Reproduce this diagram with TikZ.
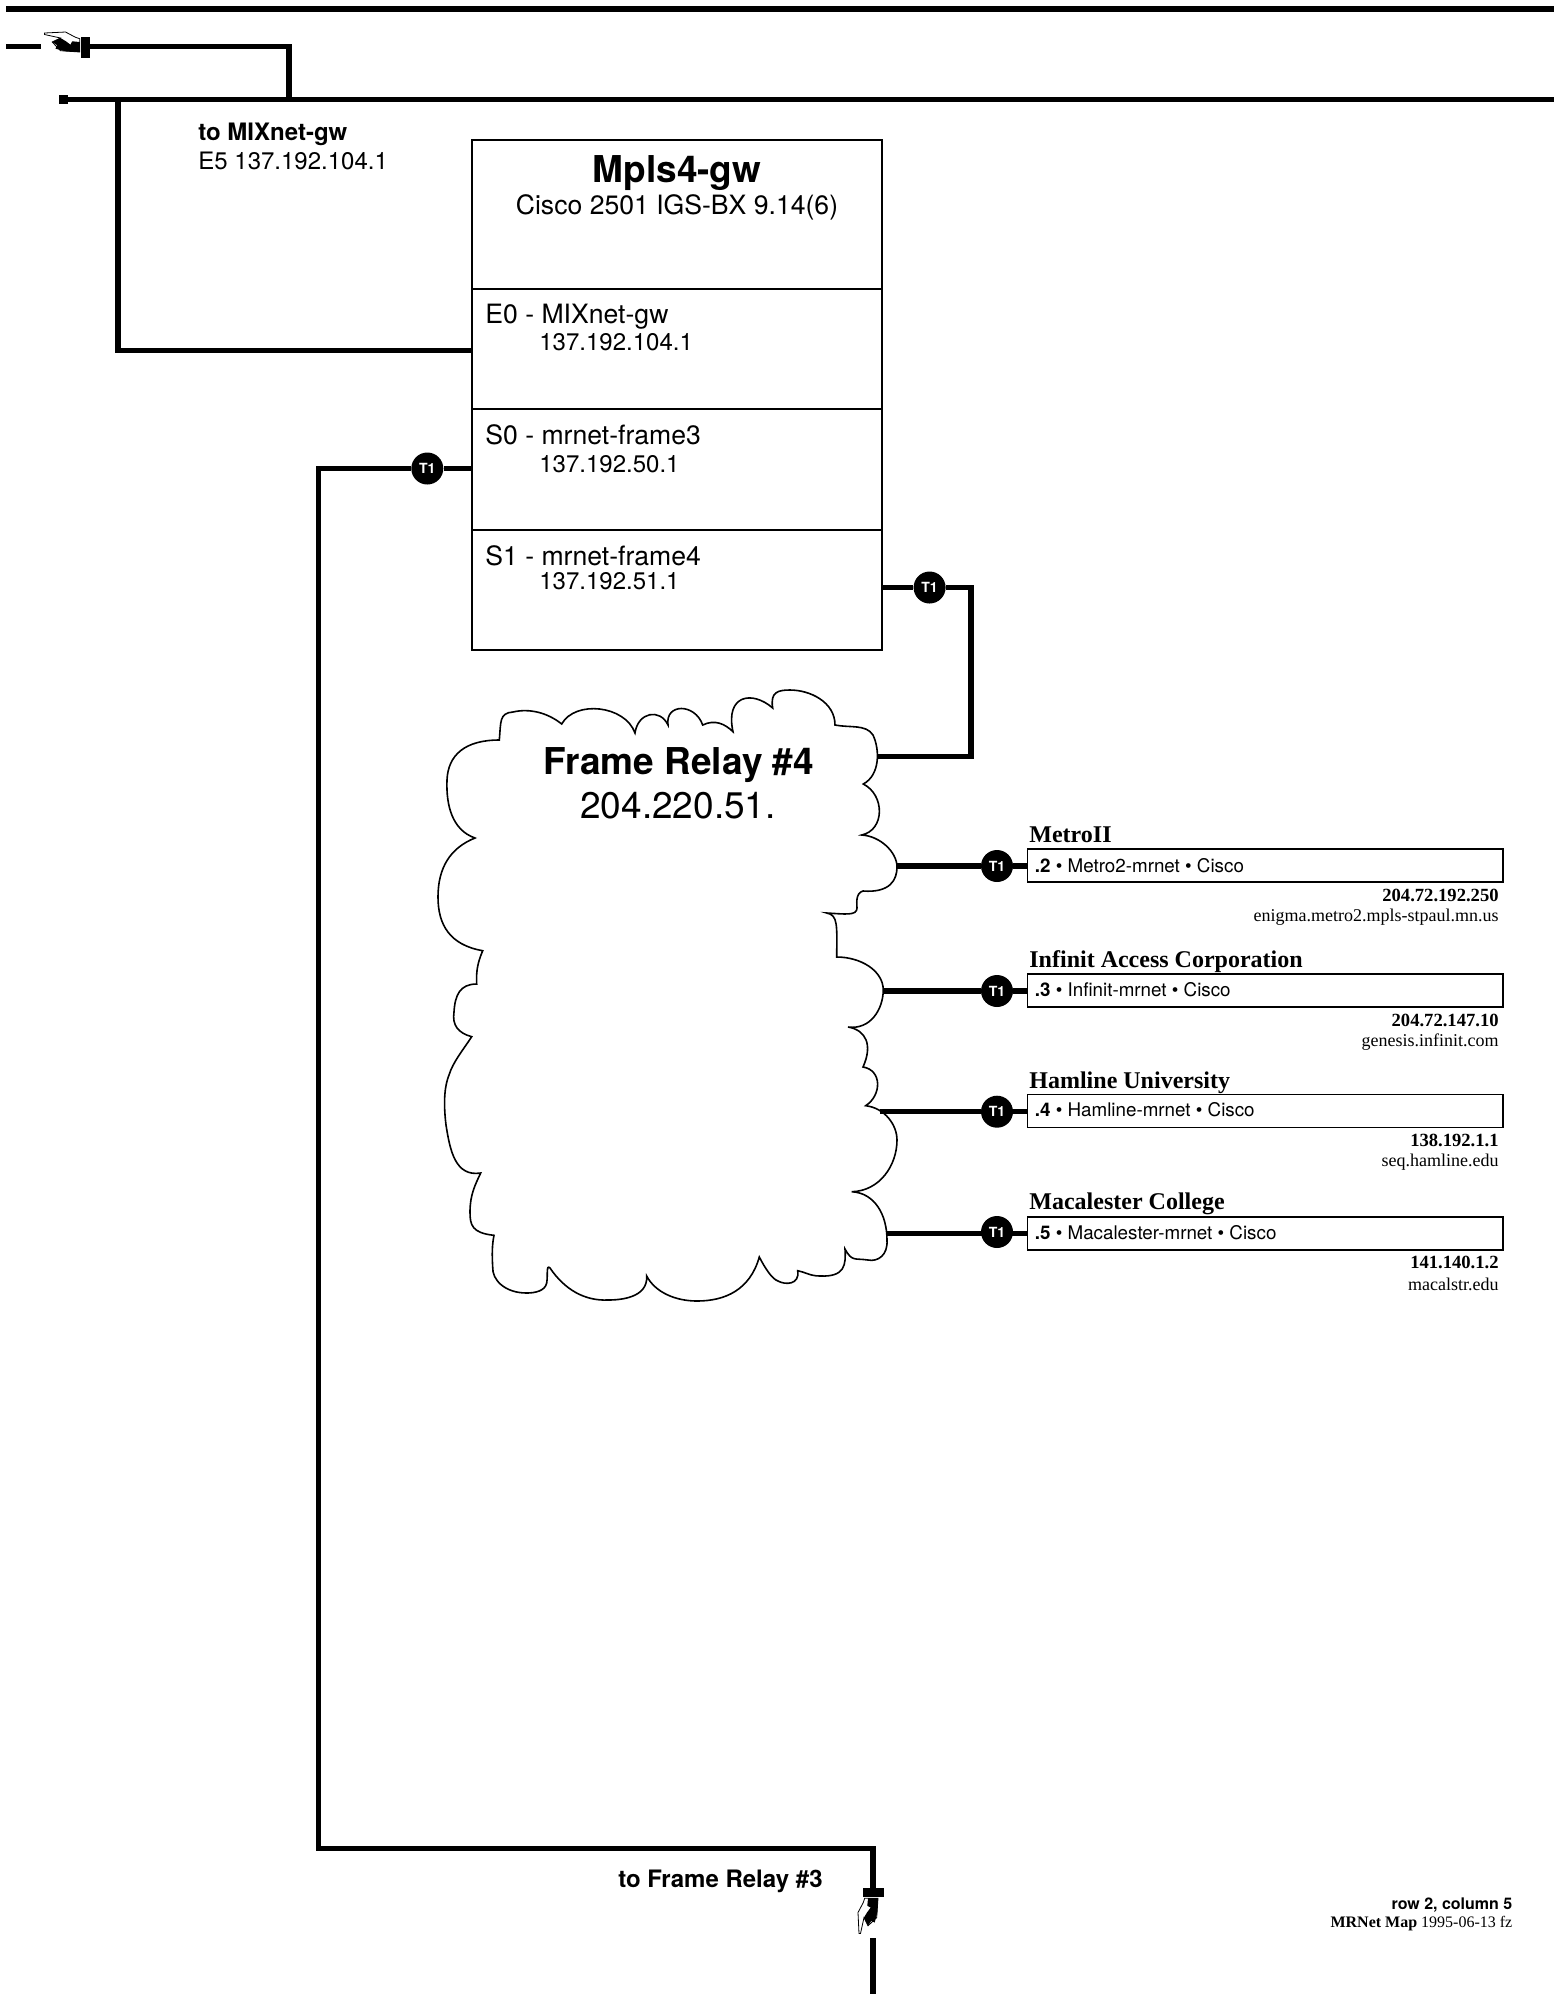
\documentclass[tikz,border=0pt]{standalone}
\usepackage{fontspec}
\setmainfont{Liberation Serif}
\newfontfamily\helv{TeX Gyre Heros}
\usetikzlibrary{backgrounds}
\usetikzlibrary{positioning}

\begin{document}
\begin{tikzpicture}[
            x = 0.5pt, y = -0.5pt, % one unit is one pixel of the map
            trunk/.style = {line width = 2.7pt, line cap = butt, line join = miter},
            port/.style = {draw, line width = 0.6pt, minimum width = 205pt, inner sep = 0pt},
            sitebox/.style = {draw, line width = 0.6pt, minimum width = 237.75pt, minimum height = 16.5pt, inner sep = 0pt},
            t1/.style = {circle, fill = black, text = white, inner sep = 0pt, minimum size = 16pt,
                font = \helv\bfseries\fontsize{7}{8}\selectfont},
            lab/.style = {inner sep = 0pt, anchor = base west},
            labr/.style = {inner sep = 0pt, anchor = base east},
            labc/.style = {inner sep = 0pt, anchor = base},
            hbig/.style = {font = \helv\bfseries\fontsize{18.5}{20}\selectfont},
            hmid/.style = {font = \helv\fontsize{13.3}{15}\selectfont},
            haddr/.style = {font = \helv\fontsize{12}{14}\selectfont},
            hbold/.style = {font = \helv\bfseries\fontsize{12}{14}\selectfont},
            hsite/.style = {font = \helv\fontsize{9.4}{11}\selectfont},
            sitename/.style = {font = \bfseries\fontsize{12}{14}\selectfont},
            siteip/.style = {font = \bfseries\fontsize{9.3}{11}\selectfont},
            sitehost/.style = {font = \fontsize{9}{11}\selectfont},
            handmark/.pic = {
                \fill (-4.5,-10.5) rectangle (4.5,10.5);
                \draw[fill = white, line width = 0.4pt] (-41,-14) -- (-20,-15) -- (-10,-9.7) -- (-5.7,-8.3) -- (-5.7,5)
                    -- (-25,3.7) -- (-33.3,-5) -- (-25,-9) -- (-41,-12.5) -- cycle;
                \fill (-25,-9) -- (-33.3,-5) -- (-28.3,-1.7) -- (-30,1.7) -- (-20,4.3) -- (-5.7,5) -- (-5.7,-5)
                    -- (-13.3,-5.7) -- (-15,-2.3) -- (-20,-6) -- cycle;
            }
        ]

        \useasboundingbox (0,0) rectangle (1554,1994);

        % router
        \node[port, minimum height = 74.5pt] (title) at (677,214.5) {};
        \node[port, minimum height = 60pt] (e0) at (677,349) {};
        \node[port, minimum height = 60.5pt] (s0) at (677,469.5) {};
        \node[port, minimum height = 60pt] (s1) at (677,590) {};

        \node[labc, hbig] (routername) at (677,182) {Mpls4-gw};
        \node[labc, hmid] (routertype) at (677,214) {Cisco 2501 IGS-BX 9.14(6)};
        \node[lab, hmid] (e0name) at (485,323) {E0 - MIXnet-gw};
        \node[lab, haddr] (e0addr) at (539,350) {137.192.104.1};
        \node[lab, hmid] (s0name) at (485,444) {S0 - mrnet-frame3};
        \node[lab, haddr] (s0addr) at (539,472) {137.192.50.1};
        \node[lab, hmid] (s1name) at (485,565) {S1 - mrnet-frame4};
        \node[lab, haddr] (s1addr) at (539,589) {137.192.51.1};

        % cloud
        \draw[line width = 0.8pt] (499.3,740) .. controls (501,722) and (499,713) .. (513,712)
            .. controls (530,708) and (548,713) .. (561.7,724)
            .. controls (575,700) and (625,705) .. (635,733)
            .. controls (638,712) and (660,708) .. (668,725)
            .. controls (665,703) and (695,703) .. (702.7,725)
            .. controls (715,719) and (725,724) .. (733,731.7)
            .. controls (725,695) and (752,690) .. (772.7,708)
            .. controls (770,692) and (778,690) .. (790,690)
            .. controls (810,690) and (835,702) .. (835,725)
            .. controls (850,728) and (866,724) .. (873,735)
            .. controls (880,750) and (880,775) .. (863.3,784)
            .. controls (885,795) and (885,830) .. (861.7,835)
            .. controls (880,836) and (897,852) .. (897,867)
            .. controls (897,880) and (890,893) .. (863,891)
            .. controls (855,893) and (857,905) .. (857,908)
            .. controls (857,916) and (845,914) .. (826.7,913)
            .. controls (838,915) and (837,925) .. (836.7,957)
            .. controls (860,957) and (883,970) .. (883.3,990)
            .. controls (883,1010) and (870,1030) .. (848,1027)
            .. controls (866,1030) and (873,1045) .. (863,1067)
            .. controls (882,1070) and (882,1095) .. (865.7,1105.7)
            .. controls (885,1108) and (897,1125) .. (897,1140)
            .. controls (897,1165) and (880,1191) .. (851.7,1191.7)
            .. controls (875,1193) and (887,1215) .. (887,1240)
            .. controls (888,1255) and (878,1262) .. (868,1260)
            .. controls (855,1258) and (852,1262) .. (845,1249)
            .. controls (846,1265) and (845,1277) .. (820,1276)
            .. controls (810,1276) and (805,1272) .. (797.7,1270.7)
            .. controls (800,1285) and (785,1285) .. (778,1281)
            .. controls (772,1279) and (765,1268) .. (759.3,1257)
            .. controls (750,1290) and (725,1301) .. (697,1301)
            .. controls (675,1301) and (655,1292) .. (646.7,1276)
            .. controls (648,1298) and (620,1300) .. (608,1300)
            .. controls (585,1301) and (565,1290) .. (550,1268)
            .. controls (546,1264) and (548,1275) .. (546.7,1283)
            .. controls (545,1291) and (535,1293) .. (526.7,1293)
            .. controls (505,1293) and (492,1280) .. (492.7,1267)
            .. controls (492,1255) and (492,1245) .. (494,1235.3)
            .. controls (472,1233) and (470,1225) .. (470,1212)
            .. controls (470,1195) and (475,1185) .. (480.7,1173)
            .. controls (455,1177) and (450,1150) .. (446,1125)
            .. controls (443,1100) and (445,1085) .. (449,1075)
            .. controls (453,1062) and (463,1050) .. (471.7,1036.7)
            .. controls (458,1033) and (452,1025) .. (454,1012)
            .. controls (455,995) and (460,984) .. (476.7,984)
            .. controls (476,970) and (478,962) .. (482.7,950.7)
            .. controls (450,945) and (438,925) .. (438,897)
            .. controls (438,868) and (450,848) .. (475,838)
            .. controls (452,830) and (446,805) .. (447,780)
            .. controls (448,755) and (465,740) .. (499.3,740) -- cycle;

        \node[labc, hbig] (cloudname) at (679,774) {Frame Relay \#4};
        \node[labc, font = \helv\fontsize{18.5}{20}\selectfont] (cloudaddr) at (678,818) {204.220.51.};

        \coordinate (cloudtop) at (876.7,756.7);
        \coordinate (clouda) at (896.7,866);
        \coordinate (cloudb) at (883.3,991);
        \coordinate (cloudc) at (880,1111.7);
        \coordinate (cloudd) at (886.7,1233.5);

        % sites
        \node[sitebox] (metro) at (1265.25,865.5) {};
        \node[lab, sitename] (metroname) at (1029,842) {MetroII};
        \node[lab, hsite] (metrotext) at (1034.5,872) {\textbf{.2} • Metro2-mrnet • Cisco};
        \node[labr, siteip] (metroip) at (1499,901.7) {204.72.192.250};
        \node[labr, sitehost] (metrohost) at (1499,921.7) {enigma.metro2.mpls-stpaul.mn.us};

        \node[sitebox] (infinit) at (1265.25,990.5) {};
        \node[lab, sitename] (infinitname) at (1029,967) {Infinit Access Corporation};
        \node[lab, hsite] (infinittext) at (1034.5,996.7) {\textbf{.3} • Infinit-mrnet • Cisco};
        \node[labr, siteip] (infinitip) at (1499,1026.7) {204.72.147.10};
        \node[labr, sitehost] (infinithost) at (1499,1046.7) {genesis.infinit.com};

        \node[sitebox] (hamline) at (1265.25,1110.7) {};
        \node[lab, sitename] (hamlinename) at (1029,1088) {Hamline University};
        \node[lab, hsite] (hamlinetext) at (1034.5,1116.7) {\textbf{.4} • Hamline-mrnet • Cisco};
        \node[labr, siteip] (hamlineip) at (1499,1146) {138.192.1.1};
        \node[labr, sitehost] (hamlinehost) at (1499,1166.7) {seq.hamline.edu};

        \node[sitebox] (macalester) at (1265.25,1233.5) {};
        \node[lab, sitename] (macalestername) at (1029,1209.5) {Macalester College};
        \node[lab, hsite] (macalestertext) at (1034.5,1239) {\textbf{.5} • Macalester-mrnet • Cisco};
        \node[labr, siteip] (macalesterip) at (1499,1268) {141.140.1.2};
        \node[labr, sitehost] (macalesterhost) at (1499,1290) {macalstr.edu};

        % T1 marks
        \node[t1] (ts0) at (427.3,468.5) {T1};
        \node[t1] (ts1) at (929.6,587.5) {T1};
        \node[t1] (tmetro) at (997,866) {T1};
        \node[t1] (tinfinit) at (997,991) {T1};
        \node[t1] (thamline) at (997,1111.7) {T1};
        \node[t1] (tmacalester) at (997,1232) {T1};

        % links off the page
        \coordinate (topa) at (6,9);
        \coordinate (topb) at (1554,9);
        \coordinate (ina) at (6,46.5);
        \coordinate (inb) at (41,46.5);
        \coordinate (busfork) at (289,99.5);
        \coordinate (bustap) at (118,99.5);
        \coordinate (busright) at (1554,99.5);
        \coordinate (e0port) at (473,350.5);
        \coordinate (s0corner) at (318.7,1848.5);
        \coordinate (outa) at (873,1938);
        \coordinate (outb) at (873,1994);
        \coordinate (s1bend) at (971,587.5);

        \node[fill = black, inner sep = 0pt, minimum size = 4.5pt] (busend) at (63.5,99.5) {};
        \path (85.5,47) pic {handmark};
        \coordinate (handin) at (90,46.5);
        \path (873,1892.5) pic[rotate = 90] {handmark};
        \coordinate (handout) at (873,1888);

        \node[lab, hbold] (toname) at (198,140.7) {to MIXnet-gw};
        \node[lab, haddr] (toaddr) at (198,169) {E5 137.192.104.1};
        \node[labr, hbold] (frame3) at (823,1887) {to Frame Relay \#3};
        \node[labr, font = \helv\bfseries\fontsize{8}{9}\selectfont] (mapcell) at (1512.7,1909) {row 2, column 5};
        \node[labr, font = \fontsize{8}{9}\selectfont] (mapname) at (1512.7,1927) {\textbf{MRNet Map} 1995-06-13 fz};

        \begin{scope}[on background layer]
            \draw[trunk, line width = 3pt] (topa) -- (topb);
            \draw[trunk] (ina) -- (inb);
            \draw[trunk] (handin) -| (busfork);
            \draw[trunk] (busend) -- (busright);
            \draw[trunk] (bustap) |- (e0port);
            \draw[trunk] (s0.west |- ts0) -- (ts0) -- (ts0 -| s0corner) -- (s0corner) -| (handout);
            \draw[trunk] (outa) -- (outb);
            \draw[trunk] (s1.east |- ts1) -- (ts1) -- (s1bend) |- (cloudtop);
            \draw[trunk] (clouda) -- (tmetro) -- (metro.west |- tmetro);
            \draw[trunk] (cloudb) -- (tinfinit) -- (infinit.west |- tinfinit);
            \draw[trunk] (cloudc) -- (thamline) -- (hamline.west |- thamline);
            \draw[trunk] (cloudd) -- (tmacalester.center |- cloudd) -- (macalester.west);
        \end{scope}

\end{tikzpicture}
\end{document}
